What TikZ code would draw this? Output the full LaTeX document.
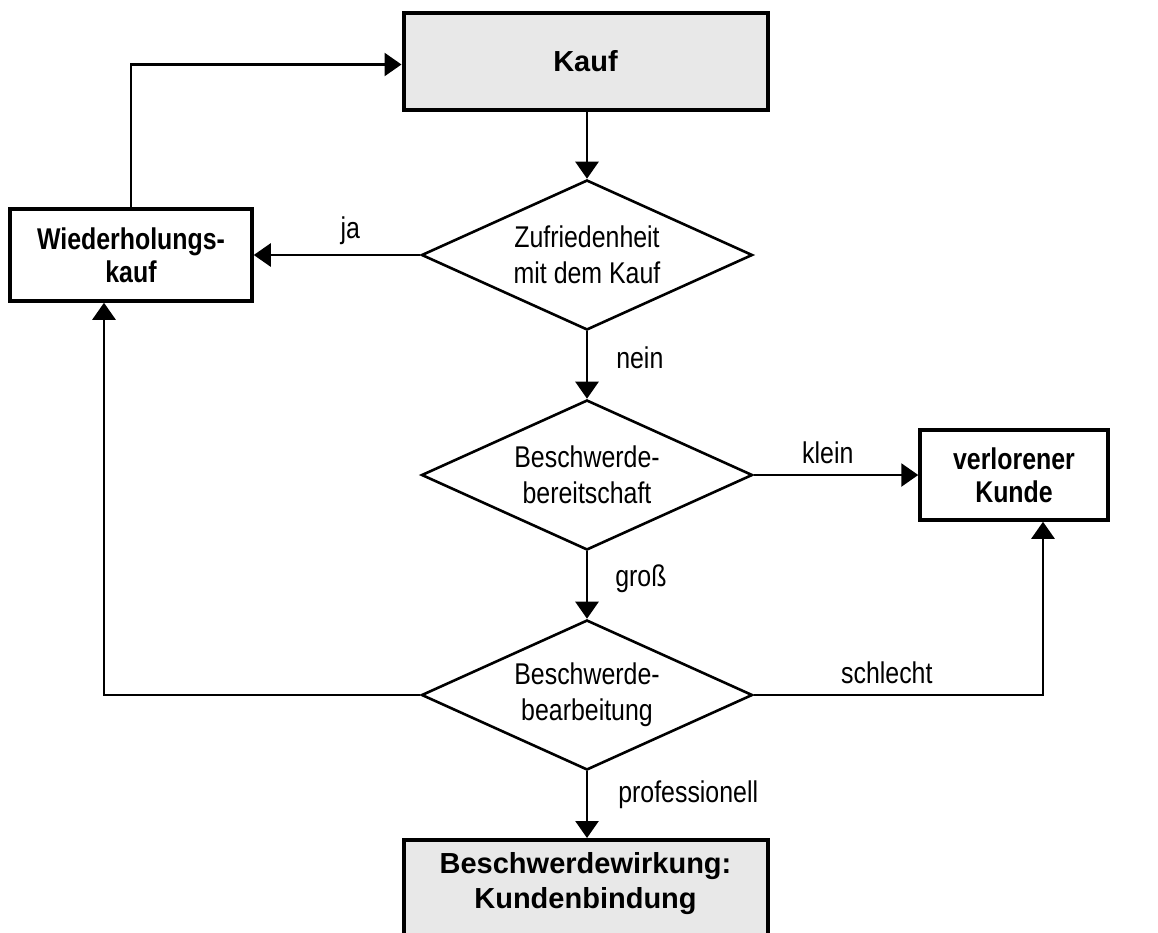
\documentclass[tikz,border=0pt]{standalone}
\usepackage{fontspec}
\setmainfont{Liberation Sans}
\newfontfamily\narrowfont[FakeStretch=0.83]{Liberation Sans}
\usetikzlibrary{shapes.geometric,arrows.meta,positioning}
\begin{document}
\begin{tikzpicture}[x=1pt,y=-1pt,
  every node/.style={font=\fontsize{30}{35}\selectfont},
  bigbox/.style={draw,line width=4pt,fill=black!9,inner sep=0pt,align=center,font=\fontsize{29}{35}\selectfont\bfseries},
  smallbox/.style={draw,line width=3.5pt,fill=white,inner sep=0pt,align=center,font=\fontsize{30}{33}\selectfont\narrowfont\bfseries},
  decision/.style={draw,diamond,line width=2.6pt,aspect=2.2,inner sep=0pt,minimum width=331pt,minimum height=150pt,align=center,font=\fontsize{30}{36}\selectfont\narrowfont},
  conn/.style={line width=2.6pt,-{Triangle[length=17pt,width=23pt]}},
  lbl/.style={font=\fontsize{30}{36}\selectfont\narrowfont,inner sep=0pt}
]
\useasboundingbox (0,0) rectangle (1158,932);
\node[bigbox,minimum width=364pt,minimum height=97pt] (kauf) at (585.5,61.5) {Kauf};
\node[smallbox,minimum width=242pt,minimum height=92pt] (wied) at (131,255) {Wiederholungs-\\kauf};
\node[decision] (z) at (587,255) {Zufriedenheit\\mit dem Kauf};
\node[decision] (b) at (587,475) {Beschwerde-\\bereitschaft};
\node[smallbox,minimum width=188pt,minimum height=90pt] (vk) at (1014,475) {verlorener\\Kunde};
\node[decision] (bb) at (587,695) {Beschwerde-\\bearbeitung};
\node[bigbox,minimum width=364pt,minimum height=130pt,anchor=north,text depth=0pt] (bw) at (585.5,838) {\raisebox{12pt}{\begin{tabular}{@{}c@{}}Beschwerdewirkung:\\Kundenbindung\end{tabular}}\\[24pt]~};

\draw[conn] (kauf.south -| z.north) -- (z.north);
\draw[conn] (z.west) -- node[lbl,pos=0.42,above=9pt] {ja} (wied.east);
\draw[conn] (wied.north) |- ([yshift=-3pt]kauf.west);
\draw[conn] (z.south) -- node[lbl,pos=0.4,right=28pt] {nein} (b.north);
\draw[conn] (b.east) -- node[lbl,pos=0.45,above=10pt] {klein} (vk.west);
\draw[conn] (b.south) -- node[lbl,pos=0.4,right=27pt] {groß} (bb.north);
\draw[conn] (bb.west) -| ([xshift=-27pt]wied.south);
\draw[conn] (bb.east) -| node[lbl,pos=0.23,above=10pt] {schlecht} ([xshift=29pt]vk.south);
\draw[conn] (bb.south) -- node[lbl,pos=0.35,right=30pt] {professionell} (bw.north -| bb.south);
\end{tikzpicture}
\end{document}
